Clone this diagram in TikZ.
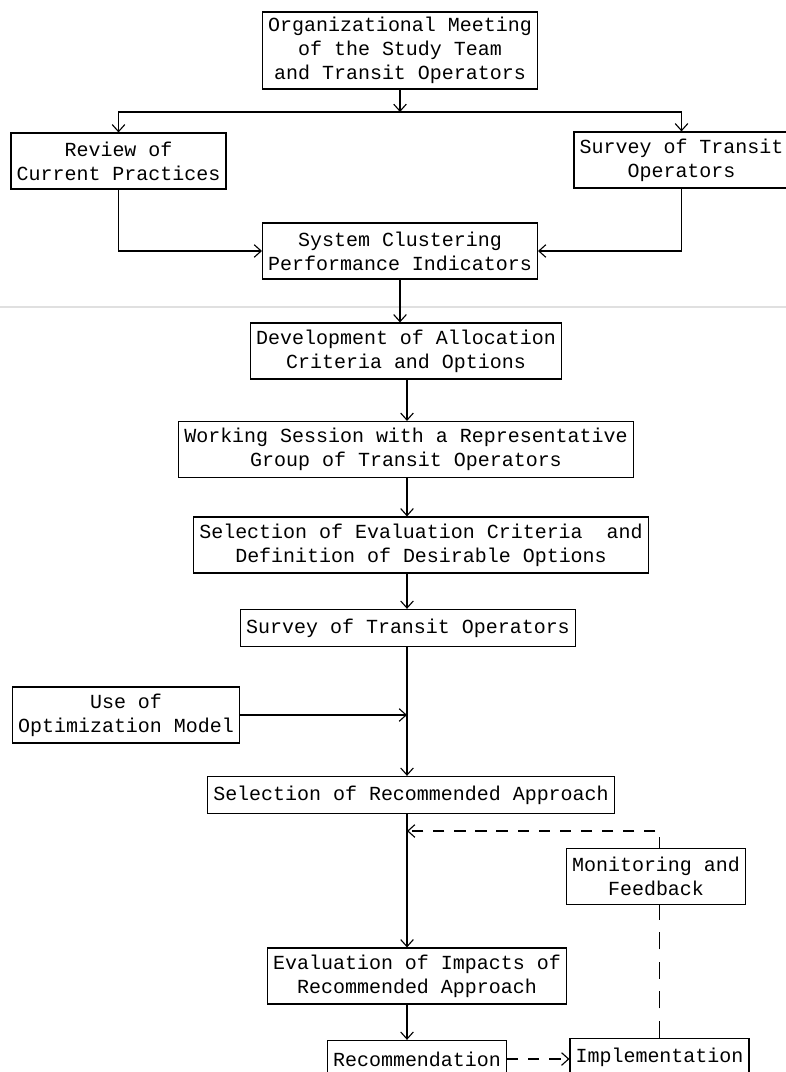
\documentclass[tikz,border=0pt]{standalone}
\usepackage{fontspec}
\setmonofont{Liberation Mono}
\usepackage{tikz}
\usetikzlibrary{arrows.meta}

\begin{document}
\begin{tikzpicture}[
        x=0.025cm, y=-0.025cm,
        box/.style={
            draw,
            line width=0.8pt,
            align=center,
            inner xsep=4pt,
            inner ysep=2pt,
            minimum height=1.4cm,
            font=\ttfamily\fontsize{14.2}{17}\selectfont
        },
        onebox/.style={box, minimum height=0.93cm},
        arrow/.style={-{Straight Barb[length=5pt,width=9pt]}, line width=0.8pt},
        dasharrow/.style={arrow, dash pattern=on 8pt off 7pt}
    ]
        \useasboundingbox (0,0) rectangle (786,1072);
        % faint fold line of the scanned page
        \draw[black!12, line width=1.2pt] (0,307) -- (786,307);

        \node[box, minimum height=1.925cm] (meeting) at (400,50.5) {Organizational Meeting\\of the Study Team\\and Transit Operators};
        \node[box] (review) at (118.5,161) {Review of\\Current Practices};
        \node[box] (survey) at (681.5,160) {Survey of Transit\\Operators};
        \node[box] (cluster) at (400,251) {System Clustering\\Performance Indicators};
        \node[box] (criteria) at (406,351) {Development of Allocation\\Criteria and Options};
        \node[box] (session) at (406,449.5) {Working Session with a Representative\\Group of Transit Operators};
        \node[box] (evalcrit) at (421,545) {Selection of Evaluation Criteria~~and\\Definition of Desirable Options};
        \node[onebox] (survey2) at (408,628) {Survey of Transit Operators};
        \node[box] (model) at (126,715) {Use of\\Optimization Model};
        \node[onebox] (approach) at (411,795) {Selection of Recommended Approach};
        \node[box] (monitor) at (656,876.5) {Monitoring and\\Feedback};
        \node[box] (impacts) at (417,976) {Evaluation of Impacts of\\Recommended Approach};
        \node[onebox] (recommend) at (417,1059) {Recommendation};
        \node[onebox] (implement) at (659.5,1057) {Implementation};

        \coordinate (split) at (400,112);
        \coordinate (axis) at (407,0);
        \coordinate (feedin) at (407,831);

        \draw[arrow] (meeting) -- (split);
        \draw[arrow] (split) -| (review.north);
        \draw[arrow] (split) -| (survey.north);
        \draw[arrow] (review.south) |- (cluster.west);
        \draw[arrow] (survey.south) |- (cluster.east);
        \draw[arrow] (cluster.south) -- (cluster.south |- criteria.north);
        \draw[arrow] (axis |- criteria.south) -- (axis |- session.north);
        \draw[arrow] (axis |- session.south) -- (axis |- evalcrit.north);
        \draw[arrow] (axis |- evalcrit.south) -- (axis |- survey2.north);
        \draw[arrow] (axis |- survey2.south) -- (axis |- approach.north);
        \draw[arrow] (model.east) -- (axis |- model.east);
        \draw[arrow] (axis |- approach.south) -- (axis |- impacts.north);
        \draw[arrow] (axis |- impacts.south) -- (axis |- recommend.north);
        \draw[dasharrow] (implement.north |- monitor.north) |- (feedin);
        \draw[dash pattern=on 12pt off 9pt, line width=0.8pt] (implement.north) -- (implement.north |- monitor.south);
        \draw[dasharrow] (recommend.east) -- (recommend.east -| implement.west);
    \end{tikzpicture}
\end{document}
